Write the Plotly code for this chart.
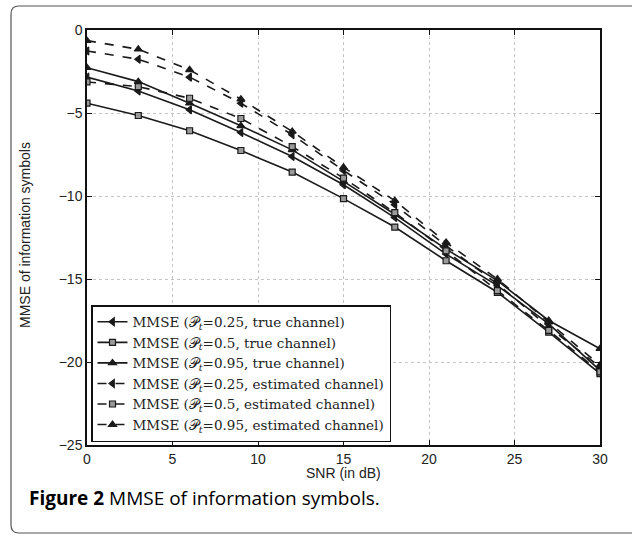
import plotly.graph_objects as go

snr = [0, 3, 6, 9, 12, 15, 18, 21, 24, 27, 30]

true_025 = [-2.84, -3.67, -4.81, -6.18, -7.62, -9.32, -11.3, -13.5, -15.4, -17.7, -20.5]
true_05 = [-4.41, -5.15, -6.07, -7.26, -8.56, -10.16, -11.87, -13.9, -15.8, -18.2, -20.7]
true_095 = [-2.27, -3.11, -4.41, -5.77, -7.22, -9.12, -11.1, -13.2, -15.1, -17.5, -19.2]
est_025 = [-1.26, -1.76, -2.84, -4.41, -6.31, -8.46, -10.52, -13.0, -15.3, -17.9, -20.3]
est_05 = [-3.13, -3.41, -4.11, -5.33, -7.02, -8.92, -11.0, -13.3, -15.7, -18.1, -20.6]
est_095 = [-0.64, -1.16, -2.40, -4.17, -6.11, -8.27, -10.28, -12.8, -15.0, -17.6, -20.2]

P = "𝒫"
names = [
    f"MMSE ({P}<sub><i>t</i></sub>=0.25, true channel)",
    f"MMSE ({P}<sub><i>t</i></sub>=0.5, true channel)",
    f"MMSE ({P}<sub><i>t</i></sub>=0.95, true channel)",
    f"MMSE ({P}<sub><i>t</i></sub>=0.25, estimated channel)",
    f"MMSE ({P}<sub><i>t</i></sub>=0.5, estimated channel)",
    f"MMSE ({P}<sub><i>t</i></sub>=0.95, estimated channel)",
]
series = [true_025, true_05, true_095, est_025, est_05, est_095]
symbols = ["triangle-left", "square", "triangle-up", "triangle-left", "square", "triangle-up"]
dashes = ["solid", "solid", "solid", "dash", "dash", "dash"]

fig = go.Figure()
for nm, ys, sym, ds in zip(names, series, symbols, dashes):
    sq = sym == "square"
    fig.add_trace(go.Scatter(
        x=snr, y=ys, name=nm, mode="lines+markers",
        line=dict(color="#1a1a1a", width=1.6, dash=ds),
        marker=dict(symbol=sym, size=6 if sq else 7,
                    color="#9a9a9a" if sq else "#1a1a1a",
                    line=dict(color="#1a1a1a", width=1.2)),
    ))

L, R, T, B = 87, 600, 30, 445
W, H = 633, 539
pw, ph = R - L, B - T

def px(x):
    return (x - L) / pw

def py(y):
    return (B - y) / ph

# rounded outer frame
x0, x1, y0, y1, r = 11, 632, 6, 533, 8
path = (
    f"M {px(x0 + r)},{py(y0)} L {px(x1)},{py(y0)} "
    f"M {px(x0)},{py(y0 + r)} Q {px(x0)},{py(y0)} {px(x0 + r)},{py(y0)} "
    f"M {px(x0)},{py(y0 + r)} L {px(x0)},{py(y1 - r)} "
    f"Q {px(x0)},{py(y1)} {px(x0 + r)},{py(y1)} L {px(x1)},{py(y1)}"
)

fig.update_layout(
    width=W, height=H,
    margin=dict(l=L, r=W - R, t=T, b=H - B, pad=0),
    paper_bgcolor="white", plot_bgcolor="white",
    font=dict(family="Liberation Sans, Arial, sans-serif", size=13, color="#222"),
    showlegend=True,
    legend=dict(
        x=px(91), y=py(442), xanchor="left", yanchor="bottom",
        bgcolor="white", bordercolor="#111", borderwidth=1.5,
        font=dict(family="DejaVu Serif, serif", size=13.5, color="#222"),
        tracegroupgap=0, itemwidth=30,
    ),
    xaxis=dict(
        range=[0, 30], dtick=5, tick0=0,
        showline=True, linecolor="#111", linewidth=1.5, mirror="ticks",
        ticks="inside", ticklen=5, tickcolor="#111",
        showgrid=True, gridcolor="#c4c4c4", griddash="dot", gridwidth=1,
        zeroline=False, tickfont=dict(size=14),
    ),
    yaxis=dict(
        range=[-25, 0], dtick=5, tick0=0,
        showline=True, linecolor="#111", linewidth=1.5, mirror="ticks",
        ticks="inside", ticklen=5, tickcolor="#111",
        showgrid=True, gridcolor="#c4c4c4", griddash="dot", gridwidth=1,
        zeroline=False, tickfont=dict(size=14),
    ),
    shapes=[dict(type="path", xref="paper", yref="paper", path=path,
                 line=dict(color="#555", width=1.2), layer="above")],
    annotations=[
        dict(text="SNR (in dB)", xref="paper", yref="paper", x=px(343), y=py(473),
             xanchor="center", yanchor="middle", showarrow=False, font=dict(size=14)),
        dict(text="MMSE of information symbols", xref="paper", yref="paper",
             x=px(25), y=py(235), xanchor="center", yanchor="middle",
             textangle=-90, showarrow=False, font=dict(size=14)),
        dict(text="<b>Figure 2</b> MMSE of information symbols.", xref="paper", yref="paper",
             x=px(27), y=py(498), xanchor="left", yanchor="middle", showarrow=False,
             font=dict(family="Open Sans, Noto Sans, sans-serif", size=19, color="#000")),
    ],
)

fig.write_html("out.html", config={"displayModeBar": False},
               post_script="document.body.style.margin='0';")
